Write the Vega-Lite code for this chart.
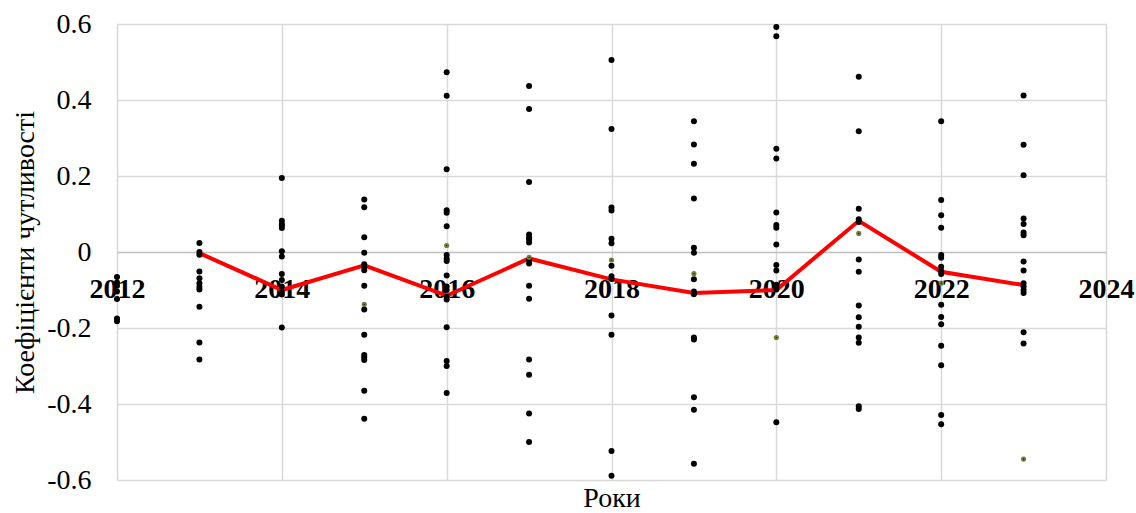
{
  "$schema": "https://vega.github.io/schema/vega-lite/v6.json",
  "autosize": {"type": "none"},
  "padding": {"left": 117, "top": 24, "right": 30, "bottom": 33},
  "width": 989,
  "height": 456,
  "config": {
    "view": {"stroke": null},
    "font": "Liberation Serif",
    "axis": {"labelFont": "Liberation Serif", "titleFont": "Liberation Serif", "labelColor": "#000000", "titleColor": "#000000"}
  },
  "datasets": {
    "obs": [
      {"year": 2012, "coef": -0.066, "kind": "obs"},
      {"year": 2012, "coef": -0.080, "kind": "obs"},
      {"year": 2012, "coef": -0.089, "kind": "obs"},
      {"year": 2012, "coef": -0.104, "kind": "obs"},
      {"year": 2012, "coef": -0.124, "kind": "obs"},
      {"year": 2012, "coef": -0.175, "kind": "obs"},
      {"year": 2012, "coef": -0.182, "kind": "obs"},
      {"year": 2013, "coef": 0.024, "kind": "obs"},
      {"year": 2013, "coef": 0.000, "kind": "obs"},
      {"year": 2013, "coef": -0.007, "kind": "obs"},
      {"year": 2013, "coef": -0.051, "kind": "obs"},
      {"year": 2013, "coef": -0.069, "kind": "obs"},
      {"year": 2013, "coef": -0.082, "kind": "obs"},
      {"year": 2013, "coef": -0.092, "kind": "obs"},
      {"year": 2013, "coef": -0.099, "kind": "obs"},
      {"year": 2013, "coef": -0.144, "kind": "obs"},
      {"year": 2013, "coef": -0.238, "kind": "obs"},
      {"year": 2013, "coef": -0.283, "kind": "obs"},
      {"year": 2014, "coef": 0.195, "kind": "obs"},
      {"year": 2014, "coef": 0.082, "kind": "obs"},
      {"year": 2014, "coef": 0.074, "kind": "obs"},
      {"year": 2014, "coef": 0.070, "kind": "obs"},
      {"year": 2014, "coef": 0.063, "kind": "obs"},
      {"year": 2014, "coef": 0.002, "kind": "obs"},
      {"year": 2014, "coef": -0.012, "kind": "obs"},
      {"year": 2014, "coef": -0.058, "kind": "obs"},
      {"year": 2014, "coef": -0.074, "kind": "obs"},
      {"year": 2014, "coef": -0.091, "kind": "obs"},
      {"year": 2014, "coef": -0.105, "kind": "obs"},
      {"year": 2014, "coef": -0.112, "kind": "obs"},
      {"year": 2014, "coef": -0.199, "kind": "obs"},
      {"year": 2015, "coef": 0.138, "kind": "obs"},
      {"year": 2015, "coef": 0.118, "kind": "obs"},
      {"year": 2015, "coef": 0.039, "kind": "obs"},
      {"year": 2015, "coef": -0.002, "kind": "obs"},
      {"year": 2015, "coef": -0.032, "kind": "obs"},
      {"year": 2015, "coef": -0.039, "kind": "obs"},
      {"year": 2015, "coef": -0.048, "kind": "obs"},
      {"year": 2015, "coef": -0.089, "kind": "obs"},
      {"year": 2015, "coef": -0.138, "kind": "ref"},
      {"year": 2015, "coef": -0.151, "kind": "obs"},
      {"year": 2015, "coef": -0.218, "kind": "obs"},
      {"year": 2015, "coef": -0.271, "kind": "obs"},
      {"year": 2015, "coef": -0.277, "kind": "obs"},
      {"year": 2015, "coef": -0.284, "kind": "obs"},
      {"year": 2015, "coef": -0.365, "kind": "obs"},
      {"year": 2015, "coef": -0.439, "kind": "obs"},
      {"year": 2016, "coef": 0.473, "kind": "obs"},
      {"year": 2016, "coef": 0.411, "kind": "obs"},
      {"year": 2016, "coef": 0.218, "kind": "obs"},
      {"year": 2016, "coef": 0.103, "kind": "obs"},
      {"year": 2016, "coef": 0.110, "kind": "obs"},
      {"year": 2016, "coef": 0.068, "kind": "obs"},
      {"year": 2016, "coef": 0.017, "kind": "ref"},
      {"year": 2016, "coef": -0.008, "kind": "obs"},
      {"year": 2016, "coef": -0.018, "kind": "obs"},
      {"year": 2016, "coef": -0.024, "kind": "obs"},
      {"year": 2016, "coef": -0.062, "kind": "obs"},
      {"year": 2016, "coef": -0.091, "kind": "obs"},
      {"year": 2016, "coef": -0.100, "kind": "obs"},
      {"year": 2016, "coef": -0.118, "kind": "obs"},
      {"year": 2016, "coef": -0.125, "kind": "obs"},
      {"year": 2016, "coef": -0.198, "kind": "obs"},
      {"year": 2016, "coef": -0.287, "kind": "obs"},
      {"year": 2016, "coef": -0.300, "kind": "obs"},
      {"year": 2016, "coef": -0.371, "kind": "obs"},
      {"year": 2017, "coef": 0.437, "kind": "obs"},
      {"year": 2017, "coef": 0.376, "kind": "obs"},
      {"year": 2017, "coef": 0.184, "kind": "obs"},
      {"year": 2017, "coef": 0.046, "kind": "obs"},
      {"year": 2017, "coef": 0.039, "kind": "obs"},
      {"year": 2017, "coef": 0.033, "kind": "obs"},
      {"year": 2017, "coef": 0.025, "kind": "obs"},
      {"year": 2017, "coef": -0.014, "kind": "ref"},
      {"year": 2017, "coef": -0.022, "kind": "obs"},
      {"year": 2017, "coef": -0.030, "kind": "obs"},
      {"year": 2017, "coef": -0.089, "kind": "obs"},
      {"year": 2017, "coef": -0.123, "kind": "obs"},
      {"year": 2017, "coef": -0.283, "kind": "obs"},
      {"year": 2017, "coef": -0.323, "kind": "obs"},
      {"year": 2017, "coef": -0.425, "kind": "obs"},
      {"year": 2017, "coef": -0.500, "kind": "obs"},
      {"year": 2018, "coef": 0.505, "kind": "obs"},
      {"year": 2018, "coef": 0.324, "kind": "obs"},
      {"year": 2018, "coef": 0.117, "kind": "obs"},
      {"year": 2018, "coef": 0.109, "kind": "obs"},
      {"year": 2018, "coef": 0.035, "kind": "obs"},
      {"year": 2018, "coef": 0.023, "kind": "obs"},
      {"year": 2018, "coef": -0.021, "kind": "ref"},
      {"year": 2018, "coef": -0.036, "kind": "obs"},
      {"year": 2018, "coef": -0.064, "kind": "obs"},
      {"year": 2018, "coef": -0.071, "kind": "obs"},
      {"year": 2018, "coef": -0.167, "kind": "obs"},
      {"year": 2018, "coef": -0.218, "kind": "obs"},
      {"year": 2018, "coef": -0.524, "kind": "obs"},
      {"year": 2018, "coef": -0.589, "kind": "obs"},
      {"year": 2019, "coef": 0.344, "kind": "obs"},
      {"year": 2019, "coef": 0.283, "kind": "obs"},
      {"year": 2019, "coef": 0.232, "kind": "obs"},
      {"year": 2019, "coef": 0.141, "kind": "obs"},
      {"year": 2019, "coef": 0.011, "kind": "obs"},
      {"year": 2019, "coef": -0.002, "kind": "obs"},
      {"year": 2019, "coef": -0.057, "kind": "ref"},
      {"year": 2019, "coef": -0.072, "kind": "obs"},
      {"year": 2019, "coef": -0.104, "kind": "obs"},
      {"year": 2019, "coef": -0.111, "kind": "obs"},
      {"year": 2019, "coef": -0.225, "kind": "obs"},
      {"year": 2019, "coef": -0.230, "kind": "obs"},
      {"year": 2019, "coef": -0.382, "kind": "obs"},
      {"year": 2019, "coef": -0.415, "kind": "obs"},
      {"year": 2019, "coef": -0.557, "kind": "obs"},
      {"year": 2020, "coef": 0.592, "kind": "obs"},
      {"year": 2020, "coef": 0.568, "kind": "obs"},
      {"year": 2020, "coef": 0.272, "kind": "obs"},
      {"year": 2020, "coef": 0.246, "kind": "obs"},
      {"year": 2020, "coef": 0.104, "kind": "obs"},
      {"year": 2020, "coef": 0.071, "kind": "obs"},
      {"year": 2020, "coef": 0.064, "kind": "obs"},
      {"year": 2020, "coef": 0.020, "kind": "obs"},
      {"year": 2020, "coef": -0.034, "kind": "obs"},
      {"year": 2020, "coef": -0.049, "kind": "obs"},
      {"year": 2020, "coef": -0.086, "kind": "obs"},
      {"year": 2020, "coef": -0.093, "kind": "obs"},
      {"year": 2020, "coef": -0.099, "kind": "obs"},
      {"year": 2020, "coef": -0.225, "kind": "ref"},
      {"year": 2020, "coef": -0.448, "kind": "obs"},
      {"year": 2021, "coef": 0.461, "kind": "obs"},
      {"year": 2021, "coef": 0.318, "kind": "obs"},
      {"year": 2021, "coef": 0.114, "kind": "obs"},
      {"year": 2021, "coef": 0.086, "kind": "obs"},
      {"year": 2021, "coef": 0.079, "kind": "obs"},
      {"year": 2021, "coef": 0.049, "kind": "ref"},
      {"year": 2021, "coef": -0.020, "kind": "obs"},
      {"year": 2021, "coef": -0.052, "kind": "obs"},
      {"year": 2021, "coef": -0.141, "kind": "obs"},
      {"year": 2021, "coef": -0.172, "kind": "obs"},
      {"year": 2021, "coef": -0.197, "kind": "obs"},
      {"year": 2021, "coef": -0.225, "kind": "obs"},
      {"year": 2021, "coef": -0.239, "kind": "obs"},
      {"year": 2021, "coef": -0.406, "kind": "obs"},
      {"year": 2021, "coef": -0.413, "kind": "obs"},
      {"year": 2022, "coef": 0.344, "kind": "obs"},
      {"year": 2022, "coef": 0.137, "kind": "obs"},
      {"year": 2022, "coef": 0.097, "kind": "obs"},
      {"year": 2022, "coef": 0.064, "kind": "obs"},
      {"year": 2022, "coef": -0.008, "kind": "obs"},
      {"year": 2022, "coef": -0.015, "kind": "obs"},
      {"year": 2022, "coef": -0.039, "kind": "obs"},
      {"year": 2022, "coef": -0.050, "kind": "obs"},
      {"year": 2022, "coef": -0.058, "kind": "obs"},
      {"year": 2022, "coef": -0.082, "kind": "ref"},
      {"year": 2022, "coef": -0.139, "kind": "obs"},
      {"year": 2022, "coef": -0.171, "kind": "obs"},
      {"year": 2022, "coef": -0.190, "kind": "obs"},
      {"year": 2022, "coef": -0.247, "kind": "obs"},
      {"year": 2022, "coef": -0.298, "kind": "obs"},
      {"year": 2022, "coef": -0.429, "kind": "obs"},
      {"year": 2022, "coef": -0.453, "kind": "obs"},
      {"year": 2023, "coef": 0.412, "kind": "obs"},
      {"year": 2023, "coef": 0.282, "kind": "obs"},
      {"year": 2023, "coef": 0.202, "kind": "obs"},
      {"year": 2023, "coef": 0.088, "kind": "obs"},
      {"year": 2023, "coef": 0.074, "kind": "obs"},
      {"year": 2023, "coef": 0.051, "kind": "obs"},
      {"year": 2023, "coef": 0.044, "kind": "obs"},
      {"year": 2023, "coef": -0.025, "kind": "obs"},
      {"year": 2023, "coef": -0.049, "kind": "obs"},
      {"year": 2023, "coef": -0.082, "kind": "obs"},
      {"year": 2023, "coef": -0.091, "kind": "obs"},
      {"year": 2023, "coef": -0.100, "kind": "obs"},
      {"year": 2023, "coef": -0.108, "kind": "obs"},
      {"year": 2023, "coef": -0.211, "kind": "obs"},
      {"year": 2023, "coef": -0.241, "kind": "obs"},
      {"year": 2023, "coef": -0.545, "kind": "ref"}
    ],
    "trend": [
      {"year": 2013, "coef": -0.003},
      {"year": 2014, "coef": -0.100},
      {"year": 2015, "coef": -0.035},
      {"year": 2016, "coef": -0.115},
      {"year": 2017, "coef": -0.017},
      {"year": 2018, "coef": -0.072},
      {"year": 2019, "coef": -0.108},
      {"year": 2020, "coef": -0.100},
      {"year": 2021, "coef": 0.082},
      {"year": 2022, "coef": -0.052},
      {"year": 2023, "coef": -0.087}
    ]
  },
  "encoding": {
    "x": {
      "field": "year",
      "type": "quantitative",
      "scale": {"domain": [2012, 2024], "nice": false, "zero": false},
      "axis": {
        "values": [2012, 2014, 2016, 2018, 2020, 2022, 2024],
        "format": "d",
        "offset": -228,
        "domain": false,
        "ticks": false,
        "labelFlush": false,
        "labelOverlap": false,
        "labelPadding": 23,
        "labelFontSize": 28,
        "labelFontWeight": "bold",
        "grid": true,
        "gridColor": "#d9d9d9",
        "gridWidth": 1.5,
        "title": "Роки",
        "titleFontSize": 28,
        "titleFontWeight": "normal",
        "titleBaseline": "alphabetic",
        "titleY": 254
      }
    },
    "y": {
      "field": "coef",
      "type": "quantitative",
      "scale": {"domain": [-0.6, 0.6], "nice": false},
      "axis": {
        "values": [-0.6, -0.4, -0.2, 0, 0.2, 0.4, 0.6],
        "labelExpr": "replace(format(datum.value, '.1~f'), '\u2212', '-')",
        "domain": false,
        "ticks": false,
        "labelPadding": 26,
        "labelFontSize": 28,
        "grid": true,
        "gridColor": {"condition": {"test": "datum.value === 0", "value": "#bfbfbf"}, "value": "#d9d9d9"},
        "gridWidth": 1.5,
        "title": "Коефіцієнти чутливості",
        "titleFontSize": 28,
        "titleFontWeight": "normal",
        "titleBaseline": "alphabetic",
        "titleX": -84,
        "titleY": 228
      }
    }
  },
  "layer": [
    {
      "data": {"name": "trend"},
      "mark": {"type": "line", "color": "#ff0000", "strokeWidth": 4},
      "encoding": {}
    },
    {
      "data": {"name": "obs"},
      "transform": [{"filter": "datum.kind === 'obs'"}],
      "mark": {"type": "point", "shape": "circle", "filled": true, "color": "#000000", "opacity": 1, "size": 36},
      "encoding": {}
    },
    {
      "data": {"name": "obs"},
      "transform": [{"filter": "datum.kind === 'ref'"}],
      "mark": {"type": "point", "shape": "circle", "filled": true, "fill": "#000000", "stroke": "#6f7d35", "strokeWidth": 2, "opacity": 1, "size": 10},
      "encoding": {}
    }
  ]
}
